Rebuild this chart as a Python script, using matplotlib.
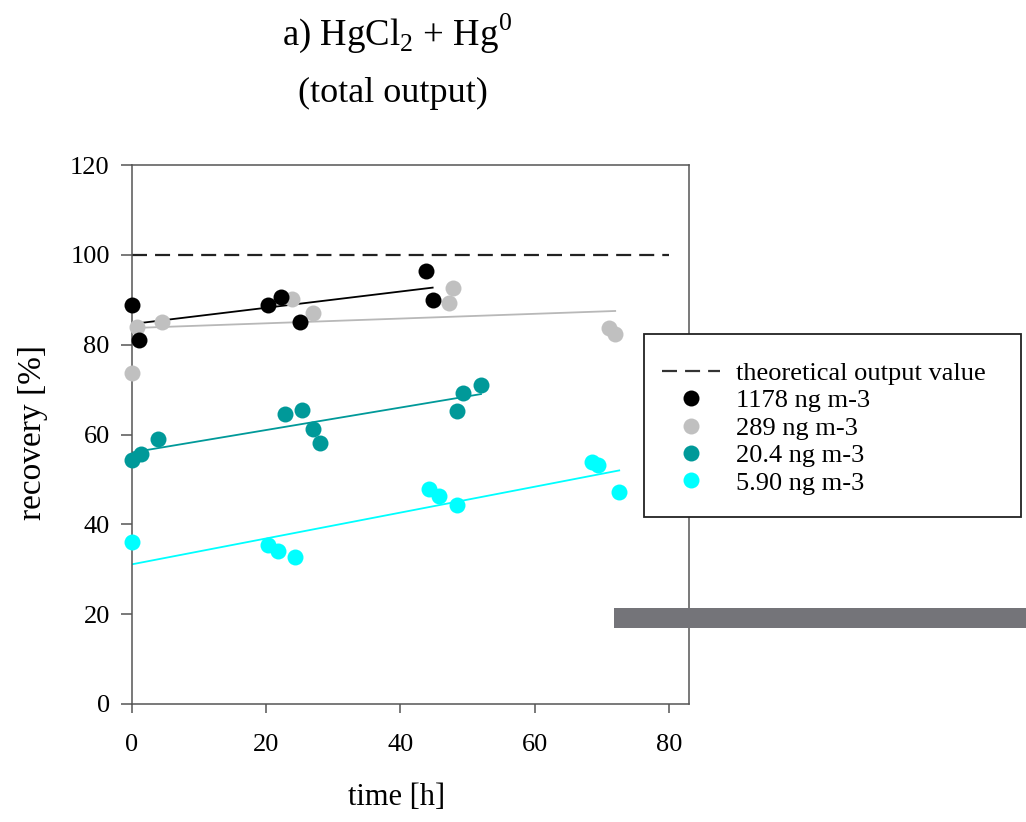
import matplotlib.pyplot as plt
from matplotlib.lines import Line2D
from matplotlib.patches import Rectangle

plt.rcParams['font.family'] = ['Liberation Serif', 'DejaVu Serif']
plt.rcParams['mathtext.fontset'] = 'custom'
plt.rcParams['mathtext.rm'] = 'Liberation Serif'
plt.rcParams['lines.scale_dashes'] = False

# measured points, time [h] vs recovery [%]
t_1178 = [0.0, 1.0, 20.3, 22.2, 25.0, 43.8, 44.9]
r_1178 = [88.9, 81.1, 88.9, 90.6, 85.1, 96.4, 90.0]
t_289 = [0.0, 0.7, 4.4, 23.8, 27.0, 47.2, 47.8, 71.1, 72.0]
r_289 = [73.7, 83.9, 85.1, 90.2, 87.0, 89.2, 92.7, 83.7, 82.3]
t_204 = [0.0, 1.4, 3.8, 22.8, 25.3, 26.9, 28.0, 48.4, 49.3, 52.0]
r_204 = [54.3, 55.7, 59.0, 64.5, 65.5, 61.2, 58.2, 65.3, 69.3, 71.0]
t_590 = [0.0, 20.3, 21.7, 24.3, 44.2, 45.7, 48.4, 68.5, 69.5, 72.5]
r_590 = [36.0, 35.4, 34.0, 32.8, 47.9, 46.4, 44.3, 53.9, 53.2, 47.3]

# regression lines (x start/end, y start/end)
fit_1178 = ([0.0, 44.8], [84.6, 92.7])
fit_289 = ([0.0, 72.0], [83.7, 87.5])
fit_204 = ([0.0, 52.0], [56.0, 69.0])
fit_590 = ([0.0, 72.6], [31.1, 52.0])

theory = 100
labels = ['theoretical output value', '1178 ng m-3', '289 ng m-3', '20.4 ng m-3', '5.90 ng m-3']
c_black, c_grey, c_teal, c_cyan = 'black', '#c0c0c0', '#009999', '#00ffff'

fig = plt.figure(figsize=(10.26, 8.22), dpi=100)
ax = fig.add_axes([132/1026, 1-704/822, (689-132)/1026, (704-165)/822])

ax.plot([0, 80], [theory, theory], color='#222222', lw=1.6, dashes=(10.8, 5.8))
ax.plot(*fit_289, color='#b8b8b8', lw=1.3)
ax.plot(*fit_204, color=c_teal, lw=1.3)
ax.plot(*fit_590, color=c_cyan, lw=1.3)
ax.plot(*fit_1178, color=c_black, lw=1.3)

ms = 11.5
for t, r, c in [(t_289, r_289, c_grey), (t_204, r_204, c_teal),
                (t_590, r_590, c_cyan), (t_1178, r_1178, c_black)]:
    ax.plot(t, r, 'o', color=c, ms=ms, mec='none', clip_on=False, zorder=3)

ax.set_xlim(0, 83)
ax.set_ylim(0, 120)
ax.set_xticks([0, 20, 40, 60, 80])
ax.set_yticks([0, 20, 40, 60, 80, 100, 120])
for s in ax.spines.values():
    s.set_color('#555555')
    s.set_linewidth(1.1)
ax.tick_params(axis='y', direction='out', length=8, width=1.1, color='#555555',
               labelsize=19, pad=8)
ax.tick_params(axis='x', direction='out', length=6.5, width=1.1, color='#555555',
               labelsize=19, pad=15)

fig.text(33/1026, 1-432/822, 'recovery [%]', rotation=90, ha='center', va='center', fontsize=24)
fig.text(397/1026, 1-797/822, 'time [h]', ha='center', va='center', fontsize=22)
fig.text(397/1026, 1-45/822, r'a) HgCl$_\mathregular{2}$ + Hg$^\mathregular{0}$',
         ha='center', va='baseline', fontsize=26.5)
fig.text(393/1026, 1-102/822, '(total output)', ha='center', va='baseline', fontsize=26)

# legend frame
fig.patches.append(Rectangle((644/1026, 1-517/822), (1021-644)/1026, (517-334)/822,
                             transform=fig.transFigure, facecolor='white',
                             edgecolor='#222222', lw=1.3, zorder=4))
handles = [Line2D([], [], color='#333333', lw=1.6, dashes=(10.8, 5.8))]
for c in [c_black, c_grey, c_teal, c_cyan]:
    handles.append(Line2D([], [], ls='none', marker='o', color=c, ms=ms, mec='none'))
leg = fig.legend(handles, labels, loc='center left', bbox_to_anchor=(649/1026, 1-428/822),
                 frameon=False, fontsize=19, handlelength=2.2, handletextpad=0.6,
                 labelspacing=0.15, borderpad=0)
leg.set_zorder(5)

# grey bar overlay
fig.patches.append(Rectangle((614/1026, 1-628/822), (1026-614)/1026, 20/822,
                             transform=fig.transFigure, facecolor='#747479',
                             edgecolor='none', zorder=4))

fig.savefig('out.png', dpi=100)
